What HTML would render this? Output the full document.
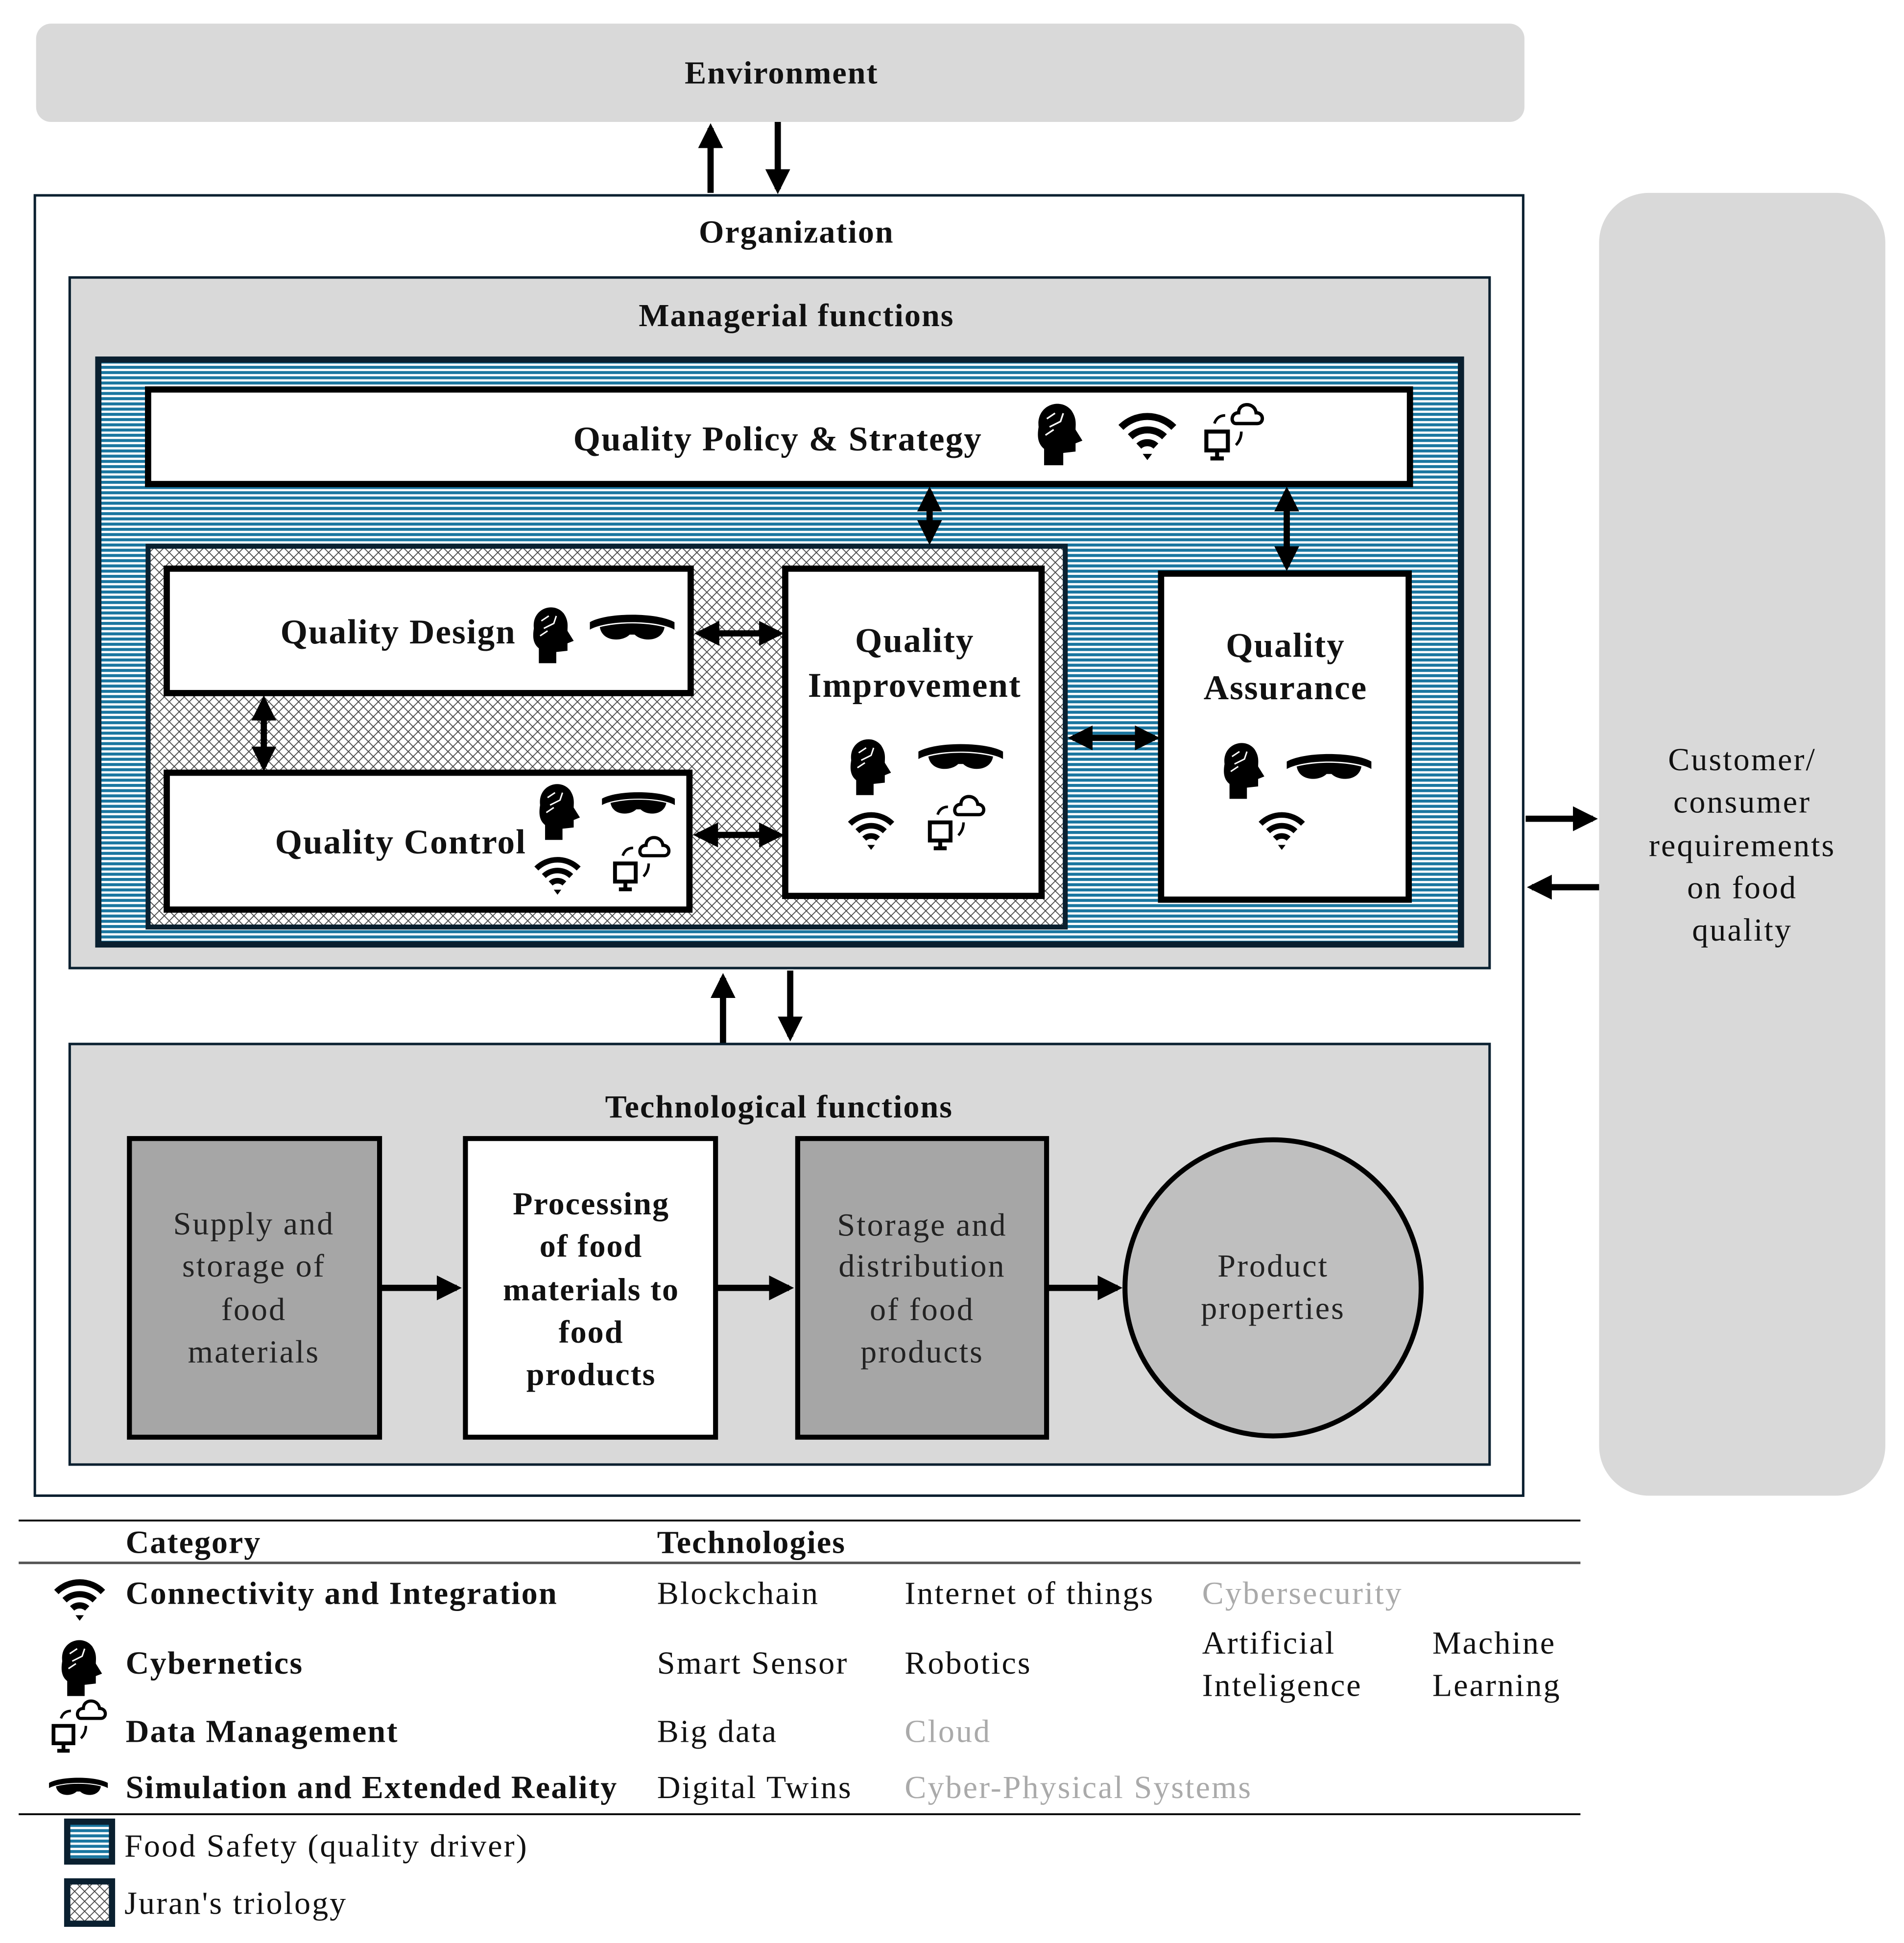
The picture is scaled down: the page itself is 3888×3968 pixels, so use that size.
<!DOCTYPE html>
<html><head><meta charset="utf-8"><style>html,body{margin:0;padding:0;background:#fff}svg{display:block}</style></head>
<body>
<svg xmlns="http://www.w3.org/2000/svg" width="3888" height="3968" viewBox="0 0 1530 1561.5" font-family="'Liberation Serif', serif">
<defs>
<pattern id="stripes" width="8" height="4.2" patternUnits="userSpaceOnUse"><rect width="8" height="4.2" fill="#fff"/><rect width="8" height="2.4" fill="#1a76a0"/></pattern>
<pattern id="juran" width="8" height="8" patternUnits="userSpaceOnUse"><rect width="8" height="8" fill="#fff"/><path d="M0 4 L4 0 M4 8 L8 4 M0 4 L4 8 M4 0 L8 4" stroke="#444" stroke-width="0.7" fill="none"/></pattern>
<marker id="ah" viewBox="0 0 10 10" refX="8" refY="5" markerWidth="4" markerHeight="4" orient="auto-start-reverse"><path d="M0 0 L10 5 L0 10 z" fill="#000"/></marker>
<symbol id="wifi" viewBox="-20 -20 40 40"><path d="M-17 -6 A24 24 0 0 1 17 -6" stroke="#000" stroke-width="4.5" fill="none"/><path d="M-11 0 A16 16 0 0 1 11 0" stroke="#000" stroke-width="4.5" fill="none"/><path d="M-5.5 6 A8 8 0 0 1 5.5 6" stroke="#000" stroke-width="4.5" fill="none"/><path d="M-3 11 L3 11 L0 15 z" fill="#000"/></symbol>
<symbol id="head" viewBox="-20 -25 40 50"><path d="M-14 -4 C-16 -20 2 -26 10 -16 C14 -10 13 -6 13 -2 L18 6 L13 8 L13 14 L4 15 L4 24 L-10 24 L-10 12 C-15 8 -15 2 -14 -4 z" fill="#000"/><path d="M-8 -10 L-2 -14 M-6 -4 L2 -8 L4 -14 M-9 2 L-3 -2" stroke="#fff" stroke-width="1.2" fill="none"/></symbol>
<symbol id="goggles" viewBox="-36 -14 72 28"><path d="M-34 -6 C-20 -14 20 -14 34 -6 L34 0 C20 -8 -20 -8 -34 0 z" fill="#000"/><path d="M-26 -2 C-10 -6 10 -6 26 -2 C24 10 8 10 2 4 L-2 4 C-8 10 -24 10 -26 -2 z" fill="#000"/></symbol>
<symbol id="data" viewBox="-25 -25 50 50"><path d="M2 -8 C-2 -8 -2 -16 4 -16 C4 -24 16 -24 17 -16 C23 -16 23 -8 18 -8 z" stroke="#000" stroke-width="2.5" fill="none"/><rect x="-20" y="-2" width="16" height="14" stroke="#000" stroke-width="3" fill="none"/><path d="M-12 12 L-12 17 M-17 18 L-7 18" stroke="#000" stroke-width="3"/><path d="M-14 -8 Q-12 -14 -6 -14 M6 -2 Q6 4 2 8" stroke="#000" stroke-width="2" fill="none"/></symbol>
</defs>
<rect width="1530" height="1561.5" fill="#fff"/>
<g font-weight="bold" font-size="26" text-anchor="middle" fill="#111" letter-spacing="0.8">
<rect x="29" y="19" width="1196" height="79" rx="12" fill="#d9d9d9"/>
<text x="628" y="67">Environment</text>
<line x1="571" y1="155" x2="571" y2="103" stroke="#000" stroke-width="5" marker-end="url(#ah)"/>
<line x1="625" y1="98" x2="625" y2="152" stroke="#000" stroke-width="5" marker-end="url(#ah)"/>
<rect x="28" y="157" width="1196" height="1045" fill="#fff" stroke="#0a2030" stroke-width="2"/>
<text x="640" y="195">Organization</text>
<rect x="1285" y="155" width="230" height="1047" rx="40" fill="#d9d9d9"/>
<g font-weight="normal" letter-spacing="1.2"><text x="1400" y="619">Customer/</text><text x="1400" y="653">consumer</text><text x="1400" y="688">requirements</text><text x="1400" y="722">on food</text><text x="1400" y="756">quality</text></g>
<line x1="1226" y1="658" x2="1280" y2="658" stroke="#000" stroke-width="5" marker-end="url(#ah)"/>
<line x1="1285" y1="713" x2="1231" y2="713" stroke="#000" stroke-width="5" marker-end="url(#ah)"/>
<rect x="56" y="223" width="1141" height="555" fill="#d9d9d9" stroke="#0a2030" stroke-width="2"/>
<text x="640" y="262">Managerial functions</text>
<rect x="79" y="289" width="1095" height="470" fill="url(#stripes)" stroke="#0a2030" stroke-width="5"/>
<rect x="119" y="313" width="1014" height="76" fill="#fff" stroke="#000" stroke-width="5"/>
<text x="625" y="362" font-size="28">Quality Policy &amp; Strategy</text>
<use href="#head" x="828" y="320" width="44" height="55"/>
<use href="#wifi" x="897" y="326" width="50" height="50"/>
<use href="#data" x="964" y="322" width="54" height="54"/>
<rect x="119" y="439" width="737" height="306" fill="url(#juran)" stroke="#0a2030" stroke-width="4"/>
<rect x="134" y="457" width="421" height="100" fill="#fff" stroke="#000" stroke-width="5"/>
<text x="320" y="517" font-size="28">Quality Design</text>
<use href="#head" x="421" y="484" width="44" height="50"/>
<use href="#goggles" x="472" y="492" width="72" height="28"/>
<rect x="134" y="621" width="420" height="110" fill="#fff" stroke="#000" stroke-width="5"/>
<text x="322" y="686" font-size="28">Quality Control</text>
<use href="#head" x="426" y="626" width="44" height="50"/>
<use href="#goggles" x="482" y="634" width="62" height="26"/>
<use href="#wifi" x="428" y="684" width="40" height="40"/>
<use href="#data" x="489" y="670" width="52" height="52"/>
<rect x="631" y="457" width="206" height="263" fill="#fff" stroke="#000" stroke-width="5"/>
<text x="735" y="524" font-size="28">Quality</text><text x="735" y="560" font-size="28">Improvement</text>
<use href="#head" x="676" y="590" width="44" height="50"/>
<use href="#goggles" x="736" y="596" width="72" height="28"/>
<use href="#wifi" x="680" y="648" width="40" height="40"/>
<use href="#data" x="742" y="637" width="52" height="52"/>
<rect x="933" y="461" width="199" height="262" fill="#fff" stroke="#000" stroke-width="5"/>
<text x="1033" y="528" font-size="28">Quality</text><text x="1033" y="562" font-size="28">Assurance</text>
<use href="#head" x="976" y="593" width="44" height="50"/>
<use href="#goggles" x="1032" y="604" width="72" height="28"/>
<use href="#wifi" x="1010" y="648" width="40" height="40"/>
<g stroke="#000" stroke-width="5" fill="none">
<line x1="562" y1="509" x2="626" y2="509" marker-start="url(#ah)" marker-end="url(#ah)"/>
<line x1="561" y1="671" x2="626" y2="671" marker-start="url(#ah)" marker-end="url(#ah)"/>
<line x1="212" y1="563" x2="212" y2="616" marker-start="url(#ah)" marker-end="url(#ah)"/>
<line x1="747" y1="395" x2="747" y2="434" marker-start="url(#ah)" marker-end="url(#ah)"/>
<line x1="1034" y1="395" x2="1034" y2="455" marker-start="url(#ah)" marker-end="url(#ah)"/>
<line x1="862" y1="593" x2="928" y2="593" marker-start="url(#ah)" marker-end="url(#ah)"/>
<line x1="581" y1="838" x2="581" y2="786" marker-end="url(#ah)"/>
<line x1="635" y1="780" x2="635" y2="833" marker-end="url(#ah)"/>
</g>
<rect x="56" y="839" width="1141" height="338" fill="#d9d9d9" stroke="#0a2030" stroke-width="2"/>
<text x="626" y="898">Technological functions</text>
<rect x="104" y="915" width="201" height="240" fill="#a6a6a6" stroke="#000" stroke-width="4"/>
<g font-weight="normal" fill="#222" letter-spacing="1.2"><text x="204" y="992">Supply and</text><text x="204" y="1026">storage of</text><text x="204" y="1061">food</text><text x="204" y="1095">materials</text></g>
<rect x="374" y="915" width="201" height="240" fill="#fff" stroke="#000" stroke-width="4"/>
<text x="475" y="976">Processing</text><text x="475" y="1010">of food</text><text x="475" y="1045">materials to</text><text x="475" y="1079">food</text><text x="475" y="1113">products</text>
<rect x="641" y="915" width="200" height="240" fill="#a6a6a6" stroke="#000" stroke-width="4"/>
<g font-weight="normal" fill="#222" letter-spacing="1.2"><text x="741" y="993">Storage and</text><text x="741" y="1026">distribution</text><text x="741" y="1061">of food</text><text x="741" y="1095">products</text></g>
<circle cx="1023" cy="1035" r="119" fill="#bfbfbf" stroke="#000" stroke-width="4"/>
<g font-weight="normal" fill="#222" letter-spacing="1.2"><text x="1023" y="1026">Product</text><text x="1023" y="1060">properties</text></g>
<g stroke="#000" stroke-width="5">
<line x1="305" y1="1035" x2="367" y2="1035" marker-end="url(#ah)"/>
<line x1="576" y1="1035" x2="634" y2="1035" marker-end="url(#ah)"/>
<line x1="842" y1="1035" x2="898" y2="1035" marker-end="url(#ah)"/>
</g>
</g>
<g font-size="26" fill="#111" letter-spacing="1.2">
<line x1="15" y1="1222" x2="1270" y2="1222" stroke="#000" stroke-width="1.5"/>
<line x1="15" y1="1256" x2="1270" y2="1256" stroke="#555" stroke-width="2"/>
<line x1="15" y1="1458" x2="1270" y2="1458" stroke="#000" stroke-width="1.5"/>
<text x="101" y="1248" font-weight="bold" letter-spacing="0.8">Category</text>
<text x="528" y="1248" font-weight="bold" letter-spacing="0.8">Technologies</text>
<use href="#wifi" x="42" y="1264" width="44" height="44"/>
<use href="#head" x="42" y="1314" width="44" height="50"/>
<use href="#data" x="38" y="1364" width="50" height="50"/>
<use href="#goggles" x="38" y="1425" width="50" height="24"/>
<g font-weight="bold" letter-spacing="0.9"><text x="101" y="1289">Connectivity and Integration</text><text x="101" y="1345">Cybernetics</text><text x="101" y="1400">Data Management</text><text x="101" y="1445">Simulation and Extended Reality</text></g>
<text x="528" y="1289">Blockchain</text><text x="727" y="1289">Internet of  things</text><text x="966" y="1289" fill="#aaa">Cybersecurity</text>
<text x="528" y="1345">Smart Sensor</text><text x="727" y="1345">Robotics</text>
<text x="966" y="1329">Artificial</text><text x="966" y="1363">Inteligence</text>
<text x="1151" y="1329">Machine</text><text x="1151" y="1363">Learning</text>
<text x="528" y="1400">Big data</text><text x="727" y="1400" fill="#aaa">Cloud</text>
<text x="528" y="1445">Digital Twins</text><text x="727" y="1445" fill="#aaa">Cyber-Physical Systems</text>
<rect x="54" y="1464" width="36" height="32" fill="url(#stripes)" stroke="#0a2030" stroke-width="5"/>
<text x="100" y="1492">Food Safety (quality driver)</text>
<rect x="54" y="1512" width="36" height="34" fill="url(#juran)" stroke="#0a2030" stroke-width="5"/>
<text x="100" y="1538">Juran's triology</text>
</g>
</svg>
</body></html>
